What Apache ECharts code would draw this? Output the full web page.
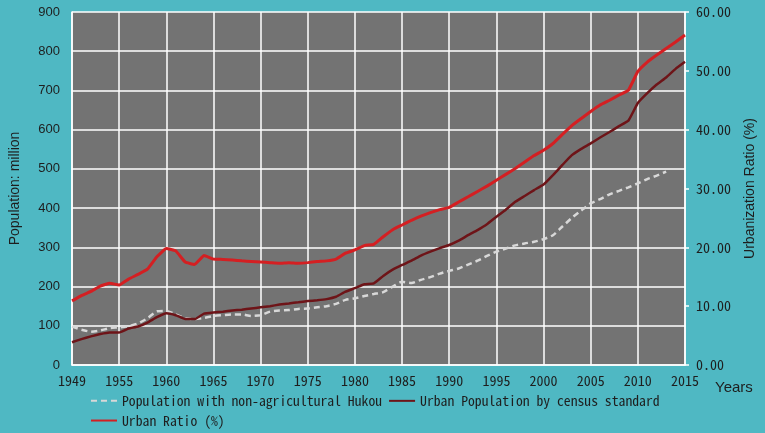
<!DOCTYPE html>
<html><head><meta charset="utf-8">
<script src="https://cdn.jsdelivr.net/npm/echarts@6/dist/echarts.min.js"></script>
<style>html,body{margin:0;padding:0;background:#4FB8C3;}#c{width:765px;height:433px;}</style>
</head><body><div id="c"></div>
<script>
const years = ['1949','1951','1952','1953','1954','1955','1956','1957','1958','1959',
'1960','1961','1962','1963','1964','1965','1966','1967','1968','1969',
'1970','1971','1972','1973','1974','1975','1976','1977','1978','1979',
'1980','1981','1982','1983','1984','1985','1986','1987','1988','1989',
'1990','1991','1992','1993','1994','1995','1996','1997','1998','1999',
'2000','2001','2002','2003','2004','2005','2006','2007','2008','2009',
'2010','2011','2012','2013','2014','2015'];
const hukouPop = [98,90,85,88,94,96,99,106,119,137,
138,129,119,117,120,125,127,129,129,125,
127,136,139,140,143,144,147,150,156,166,
170,176,181,186,200,212,209,217,224,233,
240,246,256,266,278,289,297,305,310,314,
321,331,353,375,394,412,423,435,444,453,
463,474,483,493,null,null];
const censusPop = [58,66,73,79,83,83,93,98,108,122,
132,127,117,117,131,134,136,139,141,144,
147,150,154,157,160,163,165,168,174,187,
196,206,208,227,243,255,266,279,289,298,
306,317,331,344,359,378,396,416,431,446,
460,484,510,535,551,565,580,594,609,623,
668,693,715,733,755,773];
const urbanRatio = [10.9,11.8,12.5,13.4,13.9,13.6,14.6,15.4,16.3,18.4,
19.8,19.4,17.5,17.1,18.6,18.0,17.95,17.85,17.7,17.6,
17.5,17.4,17.3,17.4,17.3,17.4,17.6,17.7,18.0,19.0,
19.55,20.3,20.5,21.8,23.0,23.8,24.6,25.3,25.9,26.4,
26.8,27.7,28.6,29.5,30.4,31.4,32.4,33.4,34.5,35.6,
36.5,37.65,39.2,40.7,41.9,43.1,44.2,45.0,45.9,46.7,
49.9,51.5,52.7,53.8,54.9,56.1];
const leftTicks = {min:0, max:900, interval:100};
const rightTicks = {min:0, max:60, interval:10};

const mono = '"Noto Sans Mono CJK SC", "Liberation Mono", monospace';
const sans = '"Liberation Sans", Arial, sans-serif';
const chart = echarts.init(document.getElementById('c'));
chart.setOption({
  backgroundColor:'#4FB8C3',
  animation:false,
  grid:{left:72,right:76,top:12,bottom:68,show:true,backgroundColor:'#737373',borderWidth:0},
  legend:{
    left:85, top:389, width:620, itemGap:6, itemWidth:26, itemHeight:12,
    itemStyle:{opacity:0},
    textStyle:{fontFamily:mono,fontSize:13.7,color:'#1e1e1e'},
    data:['Population with non-agricultural Hukou','Urban Population by census standard','Urban Ratio (%)']
  },
  xAxis:{
    type:'category', data:years, boundaryGap:false,
    name:'Years', nameLocation:'end', nameGap:30,
    nameTextStyle:{fontFamily:sans,fontSize:15,color:'#1e1e1e',verticalAlign:'top',padding:[15,0,0,0]},
    axisLine:{lineStyle:{color:'#ffffff',width:1.5}},
    axisTick:{show:false},
    axisLabel:{interval:4,fontFamily:mono,fontSize:14,color:'#1e1e1e',margin:9},
    splitLine:{show:true,interval:4,lineStyle:{color:'#ffffff',width:1.5}}
  },
  yAxis:[{
    type:'value', min:leftTicks.min, max:leftTicks.max, interval:leftTicks.interval,
    name:'Population: million', nameLocation:'middle', nameGap:50,
    nameTextStyle:{fontFamily:sans,fontSize:14,color:'#1e1e1e'},
    axisLine:{show:true,lineStyle:{color:'#ffffff',width:1.5}},
    axisTick:{show:false},
    axisLabel:{fontFamily:sans,fontSize:13,color:'#1e1e1e',margin:12},
    splitLine:{show:true,lineStyle:{color:'#ffffff',width:1.5}}
  },{
    type:'value', position:'right', min:rightTicks.min, max:rightTicks.max, interval:rightTicks.interval,
    name:'Urbanization Ratio (%)', nameLocation:'middle', nameGap:58,
    nameTextStyle:{fontFamily:sans,fontSize:14,color:'#1e1e1e'},
    axisLine:{show:true,lineStyle:{color:'#ffffff',width:1.5}},
    axisTick:{show:true,length:4,lineStyle:{color:'#ffffff',width:1.5}},
    axisLabel:{fontFamily:mono,fontSize:14,color:'#1e1e1e',margin:11,formatter:v=>v.toFixed(2)},
    splitLine:{show:false}
  }],
  series:[{
    name:'Population with non-agricultural Hukou', type:'line', yAxisIndex:0, data:hukouPop,
    symbol:'none', smooth:0.2, itemStyle:{color:'#d8d8d8'},
    lineStyle:{color:'#d8d8d8',width:2.5,type:[6,4]}
  },{
    name:'Urban Population by census standard', type:'line', yAxisIndex:0, data:censusPop,
    symbol:'none', smooth:0.1, itemStyle:{color:'#6e1418'},
    lineStyle:{color:'#6e1418',width:2.5}
  },{
    name:'Urban Ratio (%)', type:'line', yAxisIndex:1, data:urbanRatio,
    symbol:'none', smooth:0.1, itemStyle:{color:'#d41f22'},
    lineStyle:{color:'#d41f22',width:3}
  }]
});
</script></body></html>
